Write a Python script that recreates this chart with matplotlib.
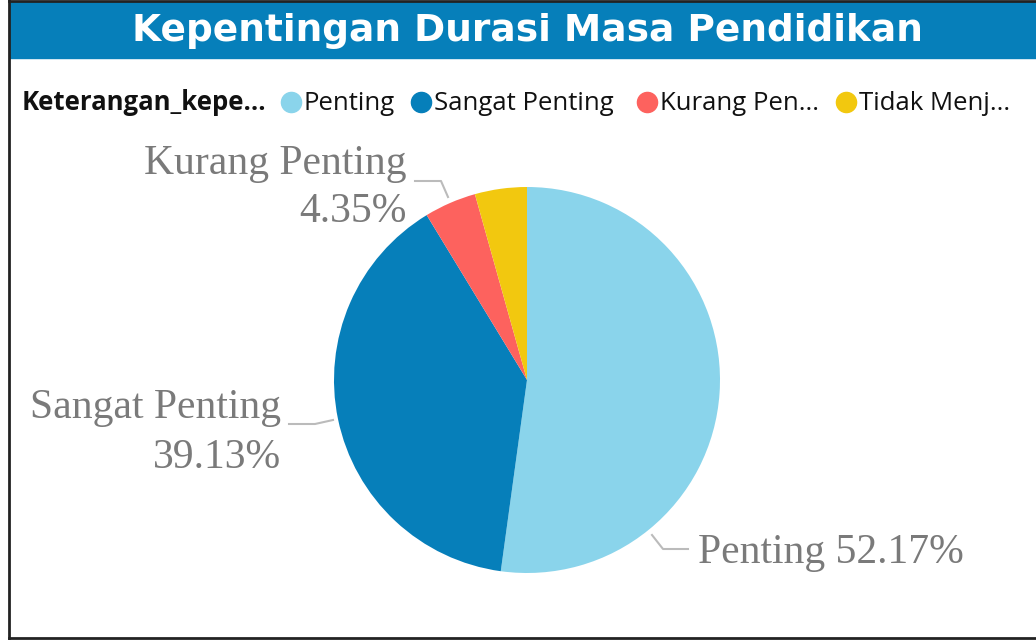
import matplotlib
matplotlib.use("Agg")
import matplotlib.pyplot as plt
from matplotlib.patches import Rectangle
from matplotlib.lines import Line2D

# data
categories = ["Penting", "Sangat Penting", "Kurang Penting", "Tidak Menjawab"]
shares = [52.17, 39.13, 4.35, 4.35]
legend_labels = ["Penting", "Sangat Penting", "Kurang Pen...", "Tidak Menj..."]
colors = ["#8AD4EB", "#067FBA", "#FD625E", "#F2C80F"]

W, H = 1036, 640
fig = plt.figure(figsize=(W / 100, H / 100), dpi=100)


def fx(px):
    return px / W


def fy(py):
    return 1 - py / H


# frame + title bar
fig.add_artist(Line2D([fx(9), fx(9)], [fy(0), fy(638)], color="#222222", lw=2))
fig.add_artist(Line2D([fx(9), 1], [fy(1), fy(1)], color="#222222", lw=2))
fig.add_artist(Line2D([fx(9), 1], [fy(638), fy(638)], color="#222222", lw=2))
fig.add_artist(Rectangle((fx(10), fy(58)), 1 - fx(10), 56 / H,
                         color="#067FBA", transform=fig.transFigure))
fig.text(fx(527), fy(31), "Kepentingan Durasi Masa Pendidikan", color="white",
         fontsize=27, fontweight="bold", family="DejaVu Sans",
         ha="center", va="center")

# legend row
fig.text(fx(22), fy(103), "Keterangan_kepe...", fontsize=18.5, fontweight="bold",
         family="Open Sans", ha="left", va="center", color="#111111")
leg_x = [291, 421, 647, 846]
for x0, lab, c in zip(leg_x, legend_labels, colors):
    fig.add_artist(Line2D([fx(x0)], [fy(102)], marker="o", markersize=14.5,
                          color=c, lw=0))
    fig.text(fx(x0 + 13), fy(103), lab, fontsize=18.5, family="Open Sans",
             ha="left", va="center", color="#111111")

# pie
cx, cy, r = 527, 380, 193
ax = fig.add_axes([fx(cx - r), (H - cy - r) / H, 2 * r / W, 2 * r / H])
ax.pie(shares, colors=colors, startangle=90, counterclock=False, radius=1,
       wedgeprops=dict(linewidth=0))
ax.set_xlim(-1, 1)
ax.set_ylim(-1, 1)
ax.set_aspect("auto")
ax.axis("off")

# leader lines (pixel positions of start, knee, end)
leaders = [
    [(448, 197), (441, 181), (415, 181)],
    [(333, 420), (315, 424), (289, 424)],
    [(652, 535), (663, 549), (688, 549)],
]
for pts in leaders:
    fig.add_artist(Line2D([fx(p[0]) for p in pts], [fy(p[1]) for p in pts],
                          color="#BBBBBB", lw=1.5))

lab_kw = dict(fontsize=30, family="Liberation Serif", color="#7A7A7A", va="center")
fig.text(fx(407), fy(164), categories[2], ha="right", **lab_kw)
fig.text(fx(407), fy(212), f"{shares[2]:.2f}%", ha="right", **lab_kw)
fig.text(fx(281), fy(408), categories[1], ha="right", **lab_kw)
fig.text(fx(281), fy(458), f"{shares[1]:.2f}%", ha="right", **lab_kw)
fig.text(fx(698), fy(553), f"{categories[0]} {shares[0]:.2f}%", ha="left", **lab_kw)

fig.savefig("out.png", dpi=100)
